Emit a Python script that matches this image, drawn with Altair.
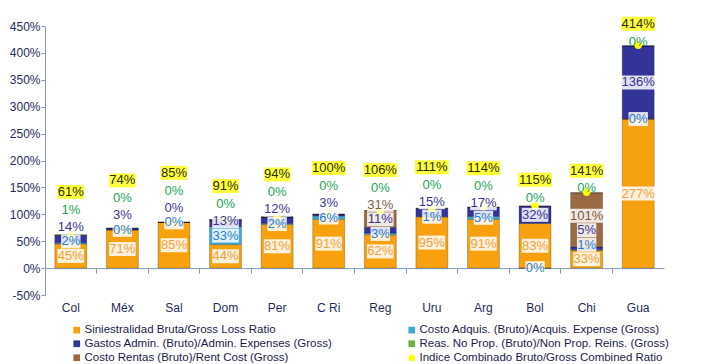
import altair as alt
import pandas as pd

# ---------------- data ----------------
cats = ["Col", "Méx", "Sal", "Dom", "Per", "C Ri", "Reg", "Uru", "Arg", "Bol", "Chi", "Gua"]
loss = [45, 71, 85, 44, 81, 91, 62, 95, 91, 83, 33, 277]
acq = [2, 0, 0, 33, 2, 6, 3, 1, 5, -0.4, 1, 0]
admin = [14, 3, 0, 13, 12, 3, 11, 15, 17, 32, 5, 136]
rent = [0, 0, 0, 0, 0, 0, 31, 0, 0, 0, 101, 0]
reas = [1, 0, 0, 0, 0, 0, 0, 0, 0, 0, 0, 0]
combined = [61, 74, 85, 91, 94, 100, 106, 111, 114, 115, 141, 414]

series = [
    "Siniestralidad Bruta/Gross Loss Ratio",
    "Costo Adquis. (Bruto)/Acquis. Expense (Gross)",
    "Gastos Admin. (Bruto)/Admin. Expenses (Gross)",
    "Reas. No Prop. (Bruto)/Non Prop. Reins. (Gross)",
    "Costo Rentas (Bruto)/Rent Cost (Gross)",
    "Indice Combinado Bruto/Gross Combined Ratio",
]
bar_colors = ["#F7A10E", "#3FA9D8", "#34339A", "#6FB045", "#9A6B43", "#FFFF00"]
text_colors = {"loss": "#F2A23C", "acq": "#2A7EC6", "admin": "#3A3592",
               "rent": "#7E5B45", "reas": "#23A35A"}

# stacking order bottom -> top
stack = [("loss", loss, 0), ("acq", acq, 1), ("admin", admin, 2), ("rent", rent, 4), ("reas", reas, 3)]

bar_rows, lab_rows, comb_rows = [], [], []
GAP, GAP_G, GAP_C = 27, 32, 33
for i, c in enumerate(cats):
    pos, neg = 0.0, 0.0
    centers = []
    green = None
    for order, (key, vals, si) in enumerate(stack):
        v = vals[i]
        bar_rows.append({"cat": c, "serie": series[si], "v": v, "ord": order})
        if v >= 0:
            lo, hi = pos, pos + v
            pos = hi
        else:
            lo, hi = neg + v, neg
            neg = lo
        txt = f"{int(round(v))}%"
        item = {"key": key, "center": (lo + hi) / 2, "text": txt}
        if key == "reas":
            green = item
        elif key == "rent" and v == 0:
            continue
        else:
            centers.append(item)
    centers.sort(key=lambda d: d["center"])
    prev = -1e9
    for it in centers:
        y = max(it["center"], prev + GAP)
        prev = y
        lab_rows.append({"cat": c, "ly": y, "lo": y - 13, "hi": y + 13,
                         "text": it["text"], "tc": text_colors[it["key"]],
                         "w": len(it["text"]) * 7.2 + 5})
    gy = max(pos + 8, prev + GAP_G)
    lab_rows.append({"cat": c, "ly": gy, "lo": gy - 13, "hi": gy + 13,
                     "text": green["text"], "tc": text_colors["reas"], "w": 0})
    cy = max(pos + 22, gy + GAP_C)
    comb_rows.append({"cat": c, "v": combined[i], "serie": series[5],
                      "ly": cy, "lo": cy - 13, "hi": cy + 13,
                      "text": f"{combined[i]}%", "w": len(f"{combined[i]}%") * 7.2 + 5})

bars_df = pd.DataFrame(bar_rows)
lab_df = pd.DataFrame(lab_rows)
box_df = lab_df[lab_df["w"] > 0]
comb_df = pd.DataFrame(comb_rows)

W, H = 619, 269
ymin, ymax = -50, 450
AX = "#8A99B8"
FONT = "Liberation Sans, Arial, sans-serif"
NARROW = "Liberation Sans Narrow, Arial Narrow, Liberation Sans, sans-serif"

xenc = alt.X("cat:N", sort=cats, title=None,
             scale=alt.Scale(paddingInner=0, paddingOuter=0),
             axis=alt.Axis(bandPosition=0, offset=-H * (0 - ymin) / (ymax - ymin),
                           domainColor=AX, tickColor=AX, tickSize=5, labelPadding=29,
                           labelAngle=0, labelFont=NARROW, labelFontSize=12,
                           labelColor="#1F2B5C", grid=False))
yscale = alt.Scale(domain=[ymin, ymax], nice=False)
yaxis = alt.Axis(values=list(range(-50, 451, 50)), labelExpr="datum.value + '%'",
                 domainColor=AX, tickColor=AX, tickSize=4, labelFont=FONT, labelFontSize=12,
                 labelColor="#1F2B5C", grid=False, labelPadding=1, labelOverlap=False)
cscale = alt.Scale(domain=series, range=bar_colors)
legend = alt.Legend(orient="none", legendX=26, legendY=298, columns=2, title=None,
                    direction="horizontal",
                    columnPadding=73, rowPadding=1, symbolSize=45,
                    labelFont=FONT, labelFontSize=11.5, labelColor="#1B1B4A",
                    labelLimit=400, labelOffset=2, symbolStrokeWidth=0)

bars = alt.Chart(bars_df).mark_bar(size=32, stroke="#000", strokeOpacity=0.22, strokeWidth=1).encode(
    x=xenc,
    y=alt.Y("v:Q", stack="zero", scale=yscale, axis=yaxis, title=None),
    color=alt.Color("serie:N", scale=cscale, legend=legend, title=None),
    order=alt.Order("ord:Q"),
)

points = alt.Chart(comb_df).mark_point(filled=True, size=55, opacity=1).encode(
    x=alt.X("cat:N", sort=cats),
    y=alt.Y("v:Q", axis=yaxis),
    color=alt.Color("serie:N", scale=cscale, legend=legend, title=None),
    shape=alt.Shape("serie:N", scale=alt.Scale(domain=series,
                                               range=["square"] * 5 + ["circle"]),
                    legend=legend, title=None),
)

boxes = alt.Chart(box_df).mark_bar(color="white", opacity=0.85).encode(
    x=alt.X("cat:N", sort=cats),
    y=alt.Y("lo:Q", stack=None, axis=yaxis),
    y2="hi:Q",
    size=alt.Size("w:Q", scale=None, legend=None),
)
cboxes = alt.Chart(comb_df).mark_bar(color="#FFFF3A").encode(
    x=alt.X("cat:N", sort=cats),
    y=alt.Y("lo:Q", stack=None, axis=yaxis),
    y2="hi:Q",
    size=alt.Size("w:Q", scale=None, legend=None),
)
texts = alt.Chart(lab_df).mark_text(font=FONT, fontSize=13, baseline="middle").encode(
    x=alt.X("cat:N", sort=cats),
    y=alt.Y("ly:Q", axis=yaxis),
    text="text:N",
    fill=alt.Fill("tc:N", scale=None, legend=None),
)
ctexts = alt.Chart(comb_df).mark_text(font=FONT, fontSize=13, baseline="middle", color="#2B2B10").encode(
    x=alt.X("cat:N", sort=cats),
    y=alt.Y("ly:Q", axis=yaxis),
    text="text:N",
)

chart = alt.layer(bars, points, boxes, cboxes, texts, ctexts).properties(
    width=W, height=H,
    autosize=alt.AutoSizeParams(type="none"),
    padding={"left": 37, "top": 18, "right": 55, "bottom": 72},
).configure_view(stroke=None).configure_axisY(labelOverlap=False)

chart.save("out.html", embed_options={"renderer": "svg", "actions": False})
